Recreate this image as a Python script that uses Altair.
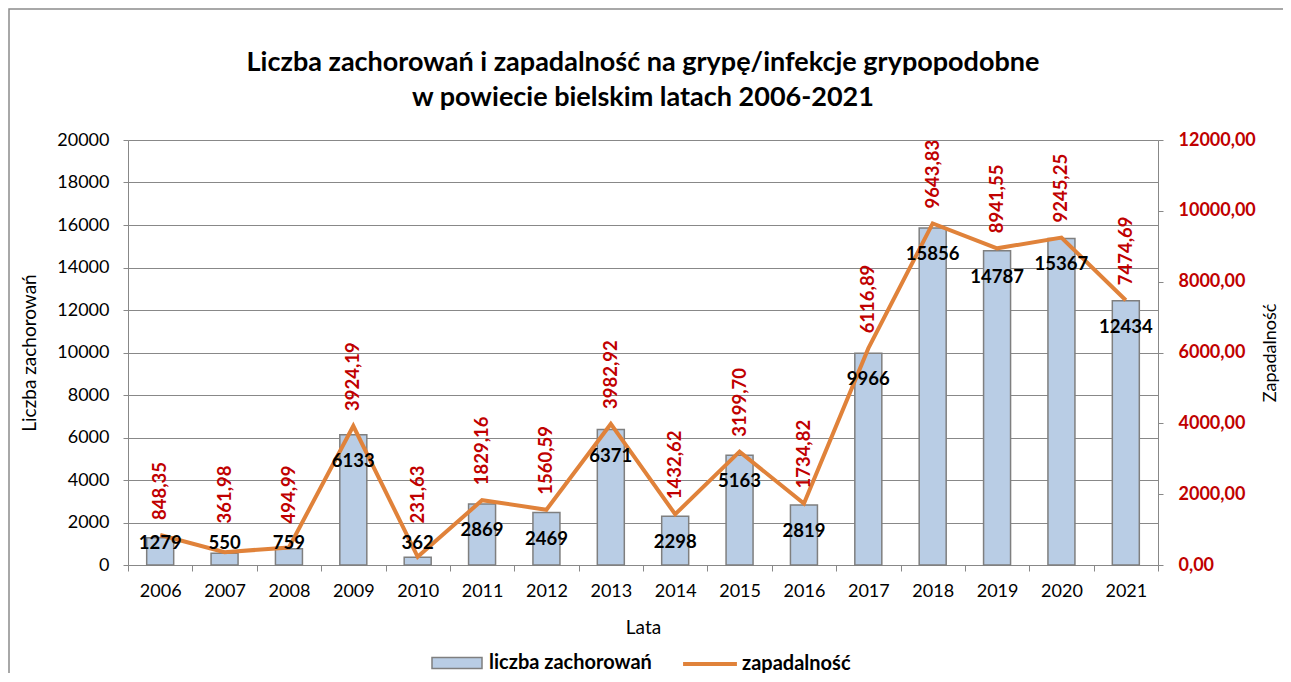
import altair as alt
import pandas as pd

years = [str(y) for y in range(2006, 2022)]
cases = [1279, 550, 759, 6133, 362, 2869, 2469, 6371, 2298, 5163, 2819, 9966, 15856, 14787, 15367, 12434]
incidence = [848.35, 361.98, 494.99, 3924.19, 231.63, 1829.16, 1560.59, 3982.92, 1432.62, 3199.70,
             1734.82, 6116.89, 9643.83, 8941.55, 9245.25, 7474.69]
series_names = ["liczba zachorowań", "zapadalność"]

df = pd.DataFrame({"year": years, "cases": cases, "inc": incidence})

FONT = "Lato"
BAR_FILL = "#b9cde5"
BAR_STROKE = "#7f7f7f"
LINE_COLOR = "#e0823a"
RED = "#c00000"
GRID = "#888888"

base = alt.Chart(df).transform_calculate(
    s1="'" + series_names[0] + "'",
    s2="'" + series_names[1] + "'",
    labpos="max(datum.cases, 2250)",
    incpos="max(datum.inc, 750)",
    inclab="replace(format(datum.inc, '.2f'), '.', ',')",
)

x_enc = alt.X(
    "year:N",
    sort=years,
    scale=alt.Scale(paddingInner=0, paddingOuter=0),
    axis=alt.Axis(
        title="Lata", labelAngle=0, tickBand="extent", tickSize=6, tickColor=GRID,
        domainColor=GRID, labelFont=FONT, labelFontSize=18, labelColor="black",
        labelPadding=11, titleFont=FONT, titleFontSize=19, titleFontWeight="normal",
        titleColor="black", titlePadding=18, grid=False,
    ),
)

frame = alt.Chart(pd.DataFrame({"f": [0]})).mark_rect(
    fillOpacity=0, stroke="#8c8c8c", strokeWidth=1.5
).encode(
    x=alt.value(-119), x2=alt.value(1156), y=alt.value(-131), y2=alt.value(560)
)

bars = base.mark_bar(size=27, stroke=BAR_STROKE, strokeWidth=1.5).encode(
    x=x_enc,
    y=alt.Y(
        "cases:Q",
        scale=alt.Scale(domain=[0, 20000]),
        axis=alt.Axis(
            title="Liczba zachorowań", values=list(range(0, 20001, 2000)), orient="left",
            format="d",
            grid=True, gridColor=GRID, gridWidth=1.2, tickSize=5, tickColor=GRID,
            domainColor=GRID, labelFont=FONT, labelFontSize=18, labelColor="black",
            labelPadding=14, titleFont=FONT, titleFontSize=19, titleFontWeight="normal",
            titleColor="black", titlePadding=17,
        ),
    ),
    fill=alt.Fill(
        "s1:N",
        scale=alt.Scale(domain=[series_names[0]], range=[BAR_FILL]),
        legend=alt.Legend(
            title=None, orient="none", legendX=303, legendY=497, padding=0,
            symbolType="M-1,-0.22H1V0.22H-1Z", symbolSize=2500,
            symbolStrokeColor=BAR_STROKE, symbolStrokeWidth=1.5, symbolFillColor=BAR_FILL,
            labelFont=FONT, labelFontSize=20, labelFontWeight="bold", labelColor="black",
            labelOffset=6, labelLimit=400,
        ),
    ),
)

line = base.mark_line(strokeWidth=4).encode(
    x=alt.X("year:N", sort=years),
    y=alt.Y(
        "inc:Q",
        scale=alt.Scale(domain=[0, 12000]),
        axis=alt.Axis(
            title="Zapadalność", values=list(range(0, 12001, 2000)), orient="right",
            grid=False, tickSize=5, tickColor=GRID, domainColor=GRID,
            labelFont=FONT, labelFontSize=18, labelFontWeight="bold", labelColor=RED,
            labelPadding=15,
            labelExpr="replace(format(datum.value, '.2f'), '.', ',')",
            titleFont=FONT, titleFontSize=18, titleFontWeight="normal", titleColor="black",
            titlePadding=6, titleAngle=270, titleBaseline="top",
        ),
    ),
    stroke=alt.Stroke(
        "s2:N",
        scale=alt.Scale(domain=[series_names[1]], range=[LINE_COLOR]),
        legend=alt.Legend(
            title=None, orient="none", legendX=553, legendY=495, padding=0,
            symbolType="stroke", symbolSize=2900, symbolStrokeWidth=4,
            symbolStrokeColor=LINE_COLOR,
            labelFont=FONT, labelFontSize=20, labelFontWeight="bold", labelColor="black",
            labelOffset=3, labelLimit=400,
        ),
    ),
)

bar_text = base.mark_text(
    dy=26, font=FONT, fontSize=18.5, fontWeight="bold", color="black", baseline="middle"
).encode(
    x=alt.X("year:N", sort=years),
    y=alt.Y("labpos:Q", scale=alt.Scale(domain=[0, 20000]), axis=None),
    text=alt.Text("cases:Q", format="d"),
)

line_text = base.mark_text(
    angle=270, align="left", baseline="middle", dx=15, font=FONT, fontSize=18.5,
    fontWeight="bold", color=RED,
).encode(
    x=alt.X("year:N", sort=years),
    y=alt.Y("incpos:Q", scale=alt.Scale(domain=[0, 12000]), axis=None),
    text="inclab:N",
)

chart = alt.layer(frame, bars, line, bar_text, line_text).resolve_scale(
    y="independent", fill="independent", stroke="independent"
).properties(
    width=1030,
    height=425,
    title=alt.TitleParams(
        text=["Liczba zachorowań i zapadalność na grypę/infekcje grypopodobne",
              "w powiecie bielskim latach 2006-2021"],
        font=FONT, fontSize=27, fontWeight="bold", color="black",
        anchor="middle", frame="group", offset=-104, lineHeight=35,
    ),
    padding={"left": 120, "top": 132, "right": 125, "bottom": 108},
    autosize=alt.AutoSizeParams(type="none"),
).configure_view(stroke=None).configure(background="white")

chart.save("out.html", embed_options={"renderer": "svg", "actions": False})
